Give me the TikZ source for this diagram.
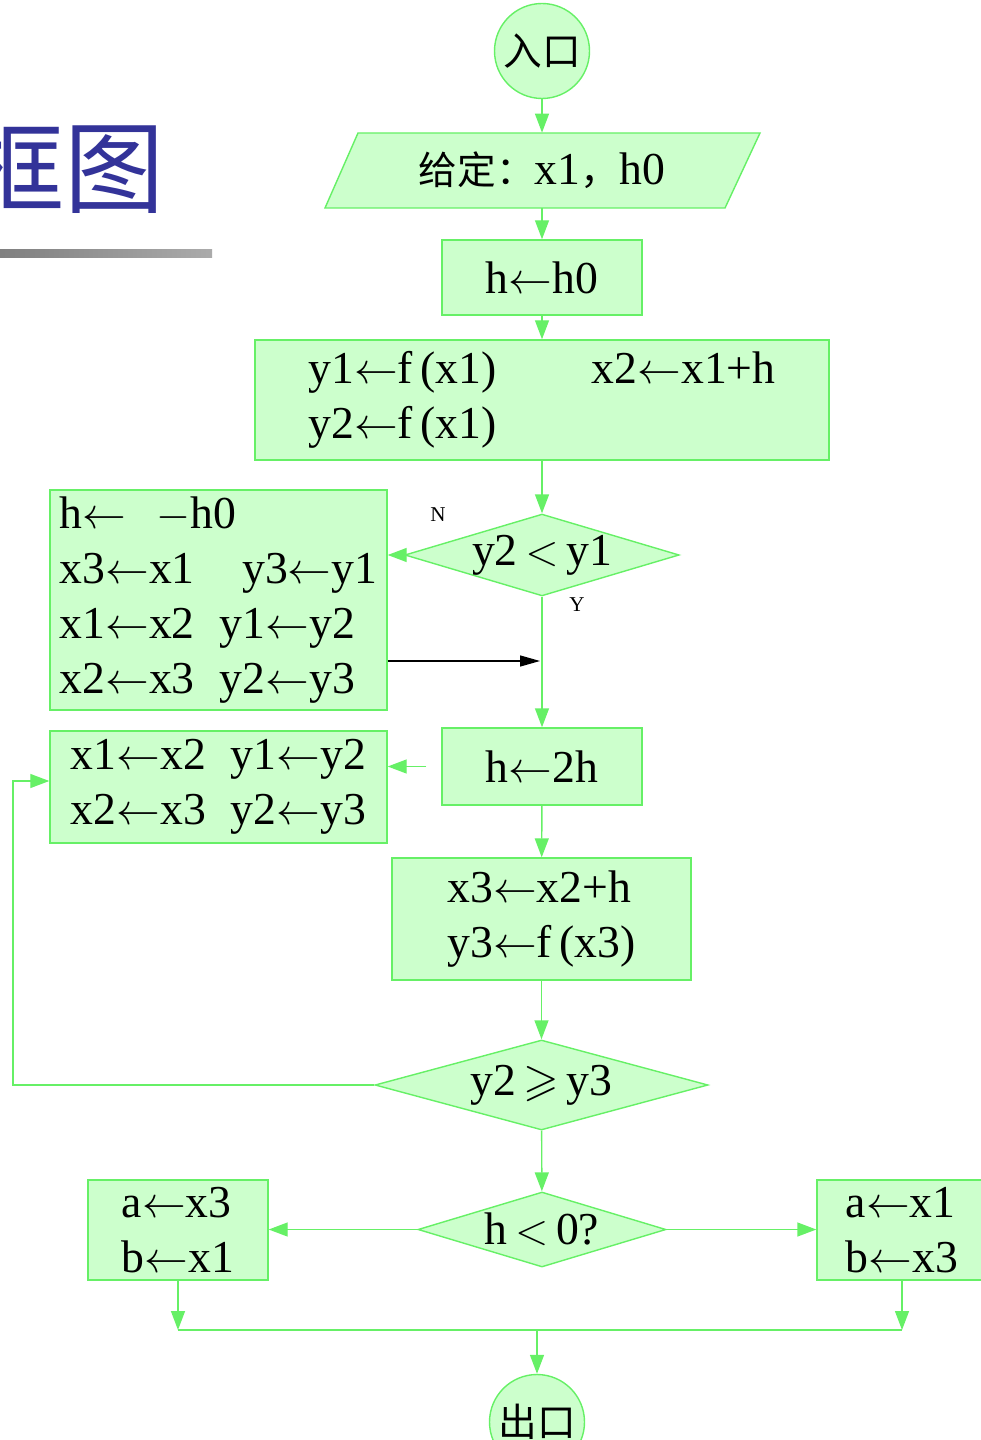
\documentclass[tikz,border=0pt]{standalone}
\usepackage{amsmath,amssymb}
\usepackage{fontspec}
\setmainfont{Liberation Serif}
\newfontfamily\cjk{Noto Sans CJK SC}
\usepackage{tikz}
\usetikzlibrary{arrows.meta,positioning,shapes.geometric,calc}
\definecolor{lgreen}{RGB}{204,255,204}
\definecolor{fgreen}{RGB}{102,240,102}
\definecolor{tblue}{RGB}{51,51,153}
\newcommand{\asg}{\ensuremath{\leftarrow}}

\begin{document}
\begin{tikzpicture}[x=0.2mm, y=-0.2mm, font=\fontsize{26}{31.2}\selectfont,
  box/.style={draw=fgreen, fill=lgreen, line width=0.8pt, align=left, inner sep=0pt},
  cond/.style={diamond, draw=fgreen, fill=lgreen, line width=0.8pt, inner sep=0pt},
  term/.style={circle, draw=fgreen, fill=lgreen, line width=0.8pt, inner sep=0pt, minimum size=1.9cm,
    font=\cjk\fontsize{22}{24}\selectfont},
  lbl/.style={font=\fontsize{12}{13}\selectfont, inner sep=0pt},
  arr/.style={draw=fgreen, line width=0.8pt, -{Triangle[length=3.8mm, width=2.8mm]}},
  blk/.style={draw=black, line width=0.8pt, -{Triangle[length=4mm, width=2.2mm]}}]
  \useasboundingbox (0,0) rectangle (980,1440);
  \node[anchor=east, text=tblue, inner sep=0pt, font=\cjk\fontsize{57}{60}\selectfont] (title) at (165,167) {框图};
  \shade[left color=black!50, right color=black!33] (0,250) rectangle (212,258);

  \node[term] (in) at (542,51) {入口};
  \draw[draw=fgreen, fill=lgreen, line width=0.8pt] (358,133) -- (760,133) -- (725,208) -- (325,208) -- cycle;
  \node[inner sep=0pt, minimum width=8cm, minimum height=1.5cm] (gv) at (542,170.5)
    {{\cjk\fontsize{22}{24}\selectfont 给定：}x1{\cjk\fontsize{22}{24}\selectfont ，}h0};
  \node[box, minimum width=4cm, minimum height=1.5cm] (h0) at (542,277.5) {h\asg h0};
  \node[box, minimum width=11.48cm, minimum height=2.4cm] (ini) at (542,400)
    {y1\asg f\,(x1)\hspace{1.9cm}x2\asg x1+h\\y2\asg f\,(x1)};
  \node[cond, aspect=3.35, minimum width=4.96cm, minimum height=1.48cm] (c1) at (542,555) {y2\,$<$\,y1};
  \node[box, minimum width=6.74cm, minimum height=4.4cm] (lb1) at (218.5,600)
    {h\asg\hspace{0.6cm}$-$h0\\x3\asg x1\hspace{0.95cm}y3\asg y1\\x1\asg x2\hspace{0.5cm}y1\asg y2\\x2\asg x3\hspace{0.5cm}y2\asg y3};
  \node[lbl] (nl) at (438,515) {N};
  \node[lbl] (yl) at (577,605) {Y};
  \coordinate (jn) at (540,661);
  \node[box, minimum width=4cm, minimum height=1.54cm] (dbl) at (542,766.5) {h\asg 2h};
  \node[box, minimum width=6.74cm, minimum height=2.24cm] (lb2) at (218.5,787)
    {x1\asg x2\hspace{0.5cm}y1\asg y2\\x2\asg x3\hspace{0.5cm}y2\asg y3};
  \node[box, minimum width=5.98cm, minimum height=2.44cm] (nx) at (541.5,919)
    {x3\asg x2+h\\y3\asg f\,(x3)};
  \node[cond, aspect=3.7, minimum width=6.66cm, minimum height=1.8cm] (c2) at (541.5,1085) {y2\,$\geqslant$\,y3};
  \coordinate (lp) at (13,1085);
  \node[cond, aspect=3.3, minimum width=4.96cm, minimum height=1.5cm] (c3) at (542,1229.5) {h\,$<$\,0?};
  \node[box, minimum width=3.6cm, minimum height=2cm] (ra) at (178,1230) {a\asg x3\\b\asg x1};
  \node[box, minimum width=3.4cm, minimum height=2cm] (rb) at (902,1230) {a\asg x1\\b\asg x3};
  \coordinate (ja) at (178,1330);
  \coordinate (jb) at (902,1330);
  \coordinate (jo) at (537,1330);
  \node[term] (out) at (537,1422) {出口};

  \draw[arr] (in) -- (gv);
  \draw[arr] (gv) -- (h0);
  \draw[arr] (h0) -- (ini);
  \draw[arr] (ini) -- (c1);
  \draw[arr] (c1.west) -- (c1.west -| lb1.east);
  \draw[blk] (lb1.east |- jn) -- (jn);
  \draw[arr] (c1) -- (dbl);
  \draw[arr] ([xshift=-0.3cm]dbl.west) -- (dbl.west -| lb2.east);
  \draw[arr] (dbl) -- (nx);
  \draw[arr] (nx) -- (c2);
  \draw[arr] (c2.west) -- (lp) |- ([yshift=0.12cm]lb2.west);
  \draw[arr] (c2) -- (c3);
  \draw[arr] (c3.west) -- (c3.west -| ra.east);
  \draw[arr] (c3.east) -- (c3.east -| rb.west);
  \draw[arr] (ra) -- (ja);
  \draw[arr] (rb) -- (jb);
  \draw[draw=fgreen, line width=0.8pt] (ja) -- (jb);
  \draw[arr] (jo) -- (out);
\end{tikzpicture}
\end{document}
